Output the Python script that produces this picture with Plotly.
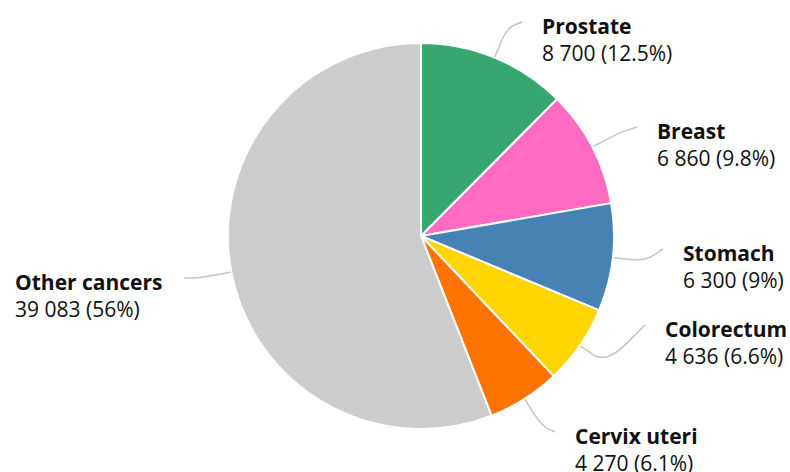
import math

import plotly.graph_objs as go

# data
cancers = ["Prostate", "Breast", "Stomach", "Colorectum", "Cervix uteri", "Other cancers"]
cases = [8700, 6860, 6300, 4636, 4270, 39083]
colors = ["#36A76E", "#FF6BC3", "#4682B4", "#FFD500", "#FF7400", "#CCCCCC"]

# layout (pixels in a 790x472 canvas)
W, H = 790, 472
CX, CY, R = 421, 236, 193
# where each leader line ends (label sits ~20px beyond it)
label_end = [(522, 22), (637, 127), (663, 249), (645, 325), (555, 432), (184, 278)]
FONT = "Open Sans"
FS = 21


def fmt_num(v):
    return f"{v:,}".replace(",", " ")


def fmt_pct(p):
    s = f"{p:.1f}"
    return s[:-2] if s.endswith(".0") else s


total = sum(cases)

fig = go.Figure()
fig.add_trace(go.Pie(labels=cancers, values=cases,
                     sort=False, direction="clockwise", rotation=0,
                     textinfo="none", hoverinfo="label+value+percent",
                     marker=dict(colors=colors, line=dict(color="white", width=2)),
                     domain=dict(x=[(CX - R) / W, (CX + R) / W],
                                 y=[(H - CY - R) / H, (H - CY + R) / H]),
                     showlegend=False))

shapes = []
annotations = []
cum = 0
for name, v, (ex, ey) in zip(cancers, cases, label_end):
    mid = (cum + v / 2) / total * 2 * math.pi
    cum += v
    dx, dy = math.sin(mid), -math.cos(mid)
    p0 = (CX + R * dx, CY + R * dy)
    e = (CX + (R + 32) * dx, CY + (R + 32) * dy)
    a = ((p0[0] + e[0]) / 2, (p0[1] + e[1]) / 2)
    b = ((e[0] + ex) / 2, (e[1] + ey) / 2)
    path = (f"M {p0[0]:.1f},{p0[1]:.1f} L {a[0]:.1f},{a[1]:.1f} "
            f"Q {e[0]:.1f},{e[1]:.1f} {b[0]:.1f},{b[1]:.1f} L {ex},{ey}")
    shapes.append(dict(type="path", xref="x", yref="y", path=path,
                       line=dict(color="#C4C4C4", width=1.5), layer="below"))

    right = ex > CX
    pct = fmt_pct(v / total * 100)
    text = f"<b>{name}</b><br>{fmt_num(v)} ({pct}%)"
    annotations.append(dict(xref="x", yref="y",
                            x=ex + 18 if right else ex - 19, y=ey + 3,
                            xanchor="left" if right else "right", yanchor="top",
                            yshift=FS * 0.65 + 1,
                            align="left", showarrow=False, text=text,
                            font=dict(family=FONT, size=FS, color="#111111")))

fig.update_layout(width=W, height=H,
                  margin=dict(l=0, r=0, t=0, b=0),
                  paper_bgcolor="white", plot_bgcolor="white",
                  xaxis=dict(range=[0, W], visible=False, fixedrange=True, domain=[0, 1]),
                  yaxis=dict(range=[H, 0], visible=False, fixedrange=True, domain=[0, 1]),
                  shapes=shapes, annotations=annotations,
                  font=dict(family=FONT, size=FS))

fig.write_html("out.html", config={"displayModeBar": False},
               post_script="document.body.style.margin='0';")
